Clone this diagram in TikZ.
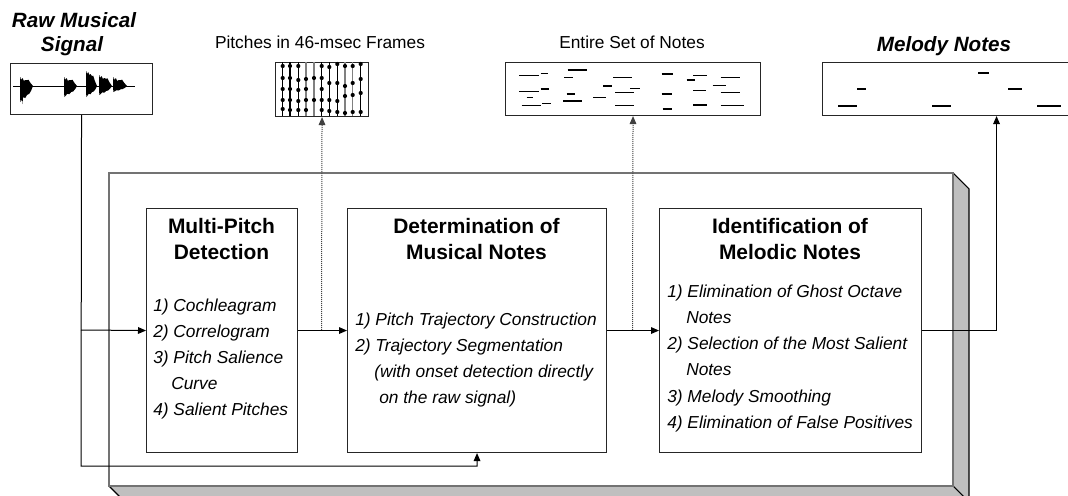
\documentclass[tikz,border=0pt]{standalone}
\usepackage{fontspec}
\setmainfont{Liberation Sans}
\usetikzlibrary{arrows.meta,calc}
\newcommand{\wburst}[4]{%
  \fill[black] (#1,{#3+4}) -- ({#1+0.5},#3) -- ({#1+0.12*#2},{#3+3}) -- ({#1+0.2*#2},{#3+1})
   -- ({#1+0.3*#2},{#3+4}) -- ({#1+0.4*#2},{#3+3}) -- ({#1+0.55*#2},{#3+0.35*(86-#3)})
   -- ({#1+0.65*#2},{#3+0.3*(86-#3)}) -- ({#1+0.8*#2},{#3+0.65*(86-#3)})
   -- ({#1+#2},86) -- ({#1+0.85*#2},{86+0.3*(#4-86)}) -- ({#1+0.7*#2},{86+0.5*(#4-86)})
   -- ({#1+0.55*#2},{86+0.55*(#4-86)}) -- ({#1+0.4*#2},{86+0.75*(#4-86)}) -- ({#1+0.25*#2},{86+0.7*(#4-86)})
   -- ({#1+0.12*#2},{86+0.9*(#4-86)}) -- ({#1+0.5},#4) -- (#1,{#4-4}) -- cycle;}
\begin{document}
\begin{tikzpicture}[x=0.75pt,y=-0.75pt,
  box/.style={draw=black!85, line width=0.8pt, fill=white, inner sep=0pt, anchor=north west},
  arr/.style={line width=0.75pt, -{Triangle[length=6pt,width=5pt]}},
  dotl/.style={line width=0.75pt, dash pattern=on 0.75pt off 0.75pt, black!75},
  itm/.style={anchor=base west, inner sep=0pt, font=\fontsize{13}{15}\selectfont\itshape},
  ttl/.style={anchor=base, inner sep=0pt, font=\fontsize{15.7}{18}\selectfont\bfseries},
  lbl/.style={anchor=base, inner sep=0pt, font=\fontsize{13}{15}\selectfont},
  blbl/.style={anchor=base, inner sep=0pt, font=\fontsize{15.5}{18}\selectfont\bfseries\itshape},
  note/.style={line width=1pt}]
\clip (0,0) rectangle (1068,496);
\fill[white] (0,0) rectangle (1068,496);

% 3D frame
\fill[black!25] (953,173) -- (969,189) -- (969,502) -- (953,486) -- cycle;
\fill[black!25] (109,486) -- (953,486) -- (969,502) -- (125,502) -- cycle;
\draw[black, line width=0.8pt] (953,173) -- (969,189) -- (969,502);
\draw[black, line width=0.8pt] (109,486) -- (125,502);
\draw[black, line width=0.8pt] (953,486) -- (969,502);
\draw[black!55, line width=1pt] (109,486) -- (109,173) -- (953,173) -- (953,486) -- cycle;

% top boxes
\node[box, minimum width=106.5pt, minimum height=38.25pt] (sig) at (10,63) {};
\node[box, minimum width=69.75pt, minimum height=40.5pt] (pit) at (275,62) {};
\node[box, minimum width=191.25pt, minimum height=39.75pt] (nts) at (505,62) {};
\node[box, minimum width=261pt, minimum height=39.75pt] (mel) at (822,62) {};

% top labels
\node[blbl] (lraw1) at (74,27) {Raw Musical};
\node[blbl] (lraw2) at (72,51) {Signal};
\node[lbl] (lpit) at (320,48) {Pitches in 46-msec Frames};
\node[lbl] (lnts) at (632,48) {Entire Set of Notes};
\node[blbl] (lmel) at (944,51) {Melody Notes};

% waveform
\draw[line width=0.7pt] (13,86) -- (135,86);
\wburst{20}{13}{77}{102}
\wburst{64}{13}{77}{97}
\wburst{86}{11}{71}{97}
\wburst{99}{13}{75}{95}
\wburst{113}{14}{77}{92}
\fill[black] (21,86) -- (22.5,104) -- (24,86) -- cycle;

% pitch frames
\foreach \x/\c in {282.7/black,290/black,298.3/black,306/black!50,314/black!50,321.7/black,329.3/black,337.3/black,345/black!50,352.7/black!50,360.7/black}
  \draw[\c, line width=0.8pt] (\x,62) -- (\x,116);
\foreach \x/\ys in {282.7/{66,78,89,100,109},290/{66,78,89,100,110},298.3/{66,80,90,101,110},306/{79,89,100,110},314/{78,100},321.7/{66,78,89,100,110},329.3/{67,83,100,111},337.3/{64,83,101,112},345/{66,86,96,113},352.7/{66,83,95,112},360.7/{64,79,93,112}}
  \foreach \y in \ys \fill (\x,\y) circle (2.1);

% entire set of notes
\foreach \a/\b/\y in {519/539/75.7,540.7/548.3/73.3,567.7/586.7/70,564.3/573.3/77.7,613.3/632.3/77.7,661.7/672.7/74,693.3/706.7/75.7,686.7/695/80,720.7/740/77.7,
  519/539/91.7,540.7/549/89,526.7/533.3/97.7,566.7/575/94,603.3/612.3/86,630/640/88.3,615/634.3/92.7,712.7/726/85.7,693.3/705.7/90.7,720.7/740/92.7,661.7/671.7/94,
  521.7/540.7/105.7,542.3/550.7/103.3,563.3/582.3/101,593.3/605.7/97.7,615/634.3/105.7,662.7/671.7/109,693.3/706.7/105,720.7/744/105.7}
  \draw[note] (\a,\y) -- (\b,\y);

% melody notes
\foreach \a/\b/\y in {838/857/106,857/866/89,932/951/106,978/989/73,1008/1022/89,1037/1061/106}
  \draw[note] (\a,\y) -- (\b,\y);

% processing boxes
\node[box, minimum width=113.25pt, minimum height=183pt] (b1) at (146,208) {};
\node[box, minimum width=194.25pt, minimum height=183pt] (b2) at (347,208) {};
\node[box, minimum width=196.5pt, minimum height=183pt] (b3) at (659,208) {};

\node[ttl] (t1a) at (221.5,233) {Multi-Pitch};
\node[ttl] (t1b) at (221.5,259) {Detection};
\node[itm] (i1a) at (153,311.7) {1) Cochleagram};
\node[itm] (i1b) at (153,337.5) {2) Correlogram};
\node[itm] (i1c) at (153,363.3) {3) Pitch Salience};
\node[itm] (i1d) at (171,389.2) {Curve};
\node[itm] (i1e) at (153,415) {4) Salient Pitches};

\node[ttl] (t2a) at (476.5,233) {Determination of};
\node[ttl] (t2b) at (476.5,259) {Musical Notes};
\node[itm] (i2a) at (355,325) {1) Pitch Trajectory Construction};
\node[itm] (i2b) at (355,351) {2) Trajectory Segmentation};
\node[itm] (i2c) at (374,377) {(with onset detection directly};
\node[itm] (i2d) at (379,403) {on the raw signal)};

\node[ttl] (t3a) at (790,233) {Identification of};
\node[ttl] (t3b) at (790,259) {Melodic Notes};
\node[itm] (i3a) at (667,297.3) {1) Elimination of Ghost Octave};
\node[itm] (i3b) at (686,323.5) {Notes};
\node[itm] (i3c) at (667,349.7) {2) Selection of the Most Salient};
\node[itm] (i3d) at (686,375.9) {Notes};
\node[itm] (i3e) at (667,402.1) {3) Melody Smoothing};
\node[itm] (i3f) at (667,428.3) {4) Elimination of False Positives};

% connectors
\coordinate (lp) at (81,466);
\coordinate (br1) at (81,330);
\coordinate (d1) at (321.5,330);
\coordinate (d2) at (632.5,330);
\draw[dotl, arr] (d1) -- (pit.south);
\draw[dotl, arr] (d2) -- (nts.south);
\draw[arr] (sig.south) -- (lp) -| (b2.south);
\draw[arr] (br1) -- (b1.west);
\draw[arr] (b1.east) -- (b2.west);
\draw[arr] (b2.east) -- (b3.west);
\draw[arr] (b3.east) -| (mel.south);
\end{tikzpicture}
\end{document}
